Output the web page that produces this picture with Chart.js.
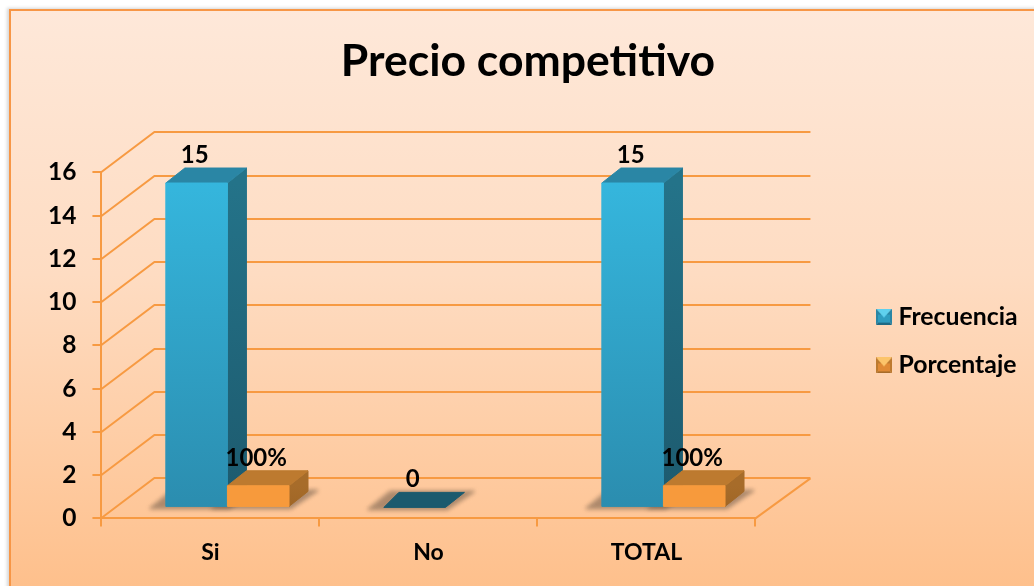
<!DOCTYPE html>
<html>
<head>
<meta charset="utf-8">
<title>Precio competitivo</title>
<script src="https://cdn.jsdelivr.net/npm/chart.js@4/dist/chart.umd.js"></script>
<style>
    html, body { margin: 0; padding: 0; background: #fff; overflow: hidden; }
    #marco {
        position: absolute; left: 9px; top: 9px; width: 1030px; height: 590px;
        box-sizing: border-box;
        border: 2px solid #f79646;
        background: linear-gradient(to bottom, #fee8d9 0%, #fedcc2 45%, #febf8a 100%);
        box-shadow: -2px -1px 3px rgba(120, 120, 120, .3);
    }
    #grafica { position: absolute; left: 0; top: 0; }
</style>
</head>
<body>
<div id="marco"></div>
<canvas id="grafica" width="1034" height="586"></canvas>
<script>
const categorias = ['Si', 'No', 'TOTAL'];
const frecuencia = [15, 0, 15];
const porcentaje = [1, null, 1];   // 1 = 100%, "No" has no visible bar

const NARANJA = '#f79a42';
const FUENTE = 'Lato, "Open Sans", sans-serif';

// colours of each face per dataset
const caras = [
    { arriba: '#35b6dd', abajo: '#2b8daf', techo: '#2a86a5', ladoArriba: '#247389', ladoAbajo: '#1d5a6e', plano: '#1b5a6e' },
    { arriba: '#f79a3c', abajo: '#f79a3c', techo: '#bd7a2f', ladoArriba: '#a76c2a', ladoAbajo: '#a06626', plano: '#bd7a2f' }
];

// back wall offset and bar depth
const pared = { dx: 53, dy: 40 };
const hueco = { dx: 17, dy: 11 };
const fondo = { dx: 19, dy: 15 };

function muestra(i) {
    const c = document.createElement('canvas');
    c.width = 16; c.height = 16;
    const g = c.getContext('2d');
    const m = i === 0
        ? ['#2f9dc0', '#5fd0ee', '#1f6a84', '#2a86a5']
        : ['#e08a35', '#fcc46a', '#a76c2a', '#bd7a2f'];
    const lados = [
        [[0, 0], [16, 0], [8, 8]],
        [[0, 0], [0, 16], [8, 8]],
        [[0, 16], [16, 16], [8, 8]],
        [[16, 0], [16, 16], [8, 8]]
    ];
    const tonos = [m[1], m[3], m[2], m[3]];
    lados.forEach((p, k) => {
        g.fillStyle = tonos[k];
        g.beginPath();
        p.forEach((q, n) => n ? g.lineTo(q[0], q[1]) : g.moveTo(q[0], q[1]));
        g.closePath();
        g.fill();
    });
    g.fillStyle = m[0];
    g.fillRect(2, 6, 12, 8);
    g.fillStyle = m[1];
    g.beginPath(); g.moveTo(2, 2); g.lineTo(14, 2); g.lineTo(8, 9); g.closePath(); g.fill();
    return c;
}

function poligono(ctx, puntos, relleno) {
    ctx.fillStyle = relleno;
    ctx.strokeStyle = relleno;
    ctx.lineWidth = 1;
    ctx.lineJoin = 'round';
    ctx.beginPath();
    puntos.forEach((p, i) => i ? ctx.lineTo(p[0], p[1]) : ctx.moveTo(p[0], p[1]));
    ctx.closePath();
    ctx.fill();
    ctx.stroke();
}

// the 3D walls: diagonals from the value axis plus the back lines
const paredes = {
    id: 'paredes',
    beforeDatasetsDraw(chart) {
        const { ctx, chartArea, scales } = chart;
        const y = scales.y;
        ctx.save();
        ctx.strokeStyle = NARANJA;
        ctx.lineWidth = 2;
        y.ticks.forEach(t => {
            const py = Math.round(y.getPixelForValue(t.value));
            ctx.beginPath();
            ctx.moveTo(chartArea.left, py);
            ctx.lineTo(chartArea.left + pared.dx, py - pared.dy);
            ctx.lineTo(chartArea.right + pared.dx + 2, py - pared.dy);
            ctx.stroke();
        });
        ctx.beginPath();
        ctx.moveTo(chartArea.right, chartArea.bottom);
        ctx.lineTo(chartArea.right + pared.dx + 2, chartArea.bottom - pared.dy);
        ctx.stroke();
        ctx.restore();
    }
};

// the bars as boxes, placed from the elements the bar controller laid out
const cajas = {
    id: 'cajas',
    afterDatasetsDraw(chart) {
        const { ctx } = chart;
        ctx.save();
        const metas = chart.data.datasets.map((d, i) => chart.getDatasetMeta(i));

        // soft shadow on the floor first
        metas.forEach(meta => meta.data.forEach((b, k) => {
            if (meta.controller.getDataset().data[k] === null) return;
            const x0 = b.x - b.width / 2 + hueco.dx;
            const x1 = b.x + b.width / 2 + hueco.dx;
            const yb = b.base - hueco.dy;
            ctx.save();
            ctx.filter = 'blur(2px)';
            poligono(ctx, [[x0 - 16, yb + 2], [x1 + 2, yb + 2], [x1 + fondo.dx + 10, yb - fondo.dy - 1], [x0 + 6, yb - fondo.dy - 1]], 'rgba(105, 85, 70, .55)');
            ctx.restore();
        }));

        metas.forEach((meta, i) => meta.data.forEach((b, k) => {
            if (meta.controller.getDataset().data[k] === null) return;
            const c = caras[i];
            const x0 = b.x - b.width / 2 + hueco.dx;
            const x1 = b.x + b.width / 2 + hueco.dx;
            const yt = b.y - hueco.dy;
            const yb = b.base - hueco.dy;
            if (yb - yt < 1) {
                poligono(ctx, [[x0, yb], [x1, yb], [x1 + fondo.dx, yb - fondo.dy], [x0 + fondo.dx - 4, yb - fondo.dy]], c.plano);
                return;
            }
            const lado = ctx.createLinearGradient(0, yt, 0, yb);
            lado.addColorStop(0, c.ladoArriba);
            lado.addColorStop(1, c.ladoAbajo);
            poligono(ctx, [[x1, yt], [x1 + fondo.dx, yt - fondo.dy], [x1 + fondo.dx, yb - fondo.dy], [x1, yb]], lado);
            poligono(ctx, [[x0, yt], [x1, yt], [x1 + fondo.dx, yt - fondo.dy], [x0 + fondo.dx, yt - fondo.dy]], c.techo);
            const frente = ctx.createLinearGradient(0, yt, 0, yb);
            frente.addColorStop(0, c.arriba);
            frente.addColorStop(1, c.abajo);
            poligono(ctx, [[x0, yt], [x1, yt], [x1, yb], [x0, yb]], frente);
        }));

        // value labels above each box
        ctx.fillStyle = '#000';
        ctx.font = 'bold 24px ' + FUENTE;
        ctx.textAlign = 'center';
        ctx.textBaseline = 'middle';
        metas.forEach((meta, i) => meta.data.forEach((b, k) => {
            const v = meta.controller.getDataset().data[k];
            if (v === null) return;
            const texto = i === 1 ? (v * 100) + '%' : String(v);
            ctx.fillText(texto, b.x + hueco.dx - 2, b.y - hueco.dy - 28);
        }));
        ctx.restore();
    }
};

// title and legend sit off the default layout
const colocar = {
    id: 'colocar',
    afterLayout(chart) {
        chart.titleBlock.left += 49.5;
        chart.titleBlock.right += 49.5;
        chart.legend.left = 882 - 24;
        chart.legend.right = 1034;
        chart.legend.top += 34.5;
        chart.legend.bottom += 34.5;
    }
};

new Chart(document.getElementById('grafica'), {
    type: 'bar',
    data: {
        labels: categorias,
        datasets: [
            { label: 'Frecuencia', data: frecuencia, backgroundColor: 'transparent', categoryPercentage: 0.565, barPercentage: 1 },
            { label: 'Porcentaje', data: porcentaje, backgroundColor: 'transparent', categoryPercentage: 0.565, barPercentage: 1 }
        ]
    },
    options: {
        responsive: false,
        animation: false,
        layout: { padding: { left: 32, right: 109, top: 35, bottom: 8 } },
        plugins: {
            tooltip: { enabled: false },
            title: {
                display: true,
                text: 'Precio competitivo',
                color: '#000',
                font: { family: FUENTE, size: 44.5, weight: 'bold' },
                padding: { top: 0, bottom: 84 }
            },
            legend: {
                position: 'right',
                labels: {
                    usePointStyle: true,
                    pointStyleWidth: 4,
                    padding: 24,
                    color: '#000',
                    font: { family: FUENTE, size: 24.8, weight: 'bold' },
                    generateLabels(chart) {
                        const items = Chart.defaults.plugins.legend.labels.generateLabels(chart);
                        items.forEach((it, i) => { it.pointStyle = muestra(i); });
                        return items;
                    }
                }
            }
        },
        scales: {
            x: {
                grid: { drawOnChartArea: false, color: NARANJA, tickLength: 8, lineWidth: 2 },
                border: { color: NARANJA, width: 2 },
                ticks: { color: '#000', padding: 12, font: { family: FUENTE, size: 23, weight: 'bold' } }
            },
            y: {
                min: 0,
                max: 16,
                grid: { drawOnChartArea: false, color: NARANJA, tickLength: 9, lineWidth: 2 },
                border: { color: NARANJA, width: 2 },
                ticks: { stepSize: 2, color: '#000', padding: 16, font: { family: FUENTE, size: 24.5, weight: 'bold' } }
            }
        }
    },
    plugins: [paredes, cajas, colocar]
});
</script>
</body>
</html>
